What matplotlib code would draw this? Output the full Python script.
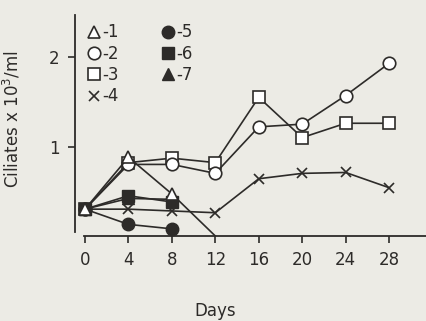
import matplotlib
matplotlib.use("Agg")
import matplotlib.pyplot as plt
from matplotlib.lines import Line2D

# days sampled
days = [0, 4, 8, 12, 16, 20, 24, 28]
days_short = [0, 4, 8]
days_s1 = [0, 4, 8, 12]

# ciliates x 10^3 / ml
s1 = [0.30, 0.88, 0.47, 0.0]
s2 = [0.30, 0.80, 0.80, 0.70, 1.22, 1.25, 1.57, 1.93]
s3 = [0.30, 0.82, 0.87, 0.82, 1.55, 1.10, 1.26, 1.26]
s4 = [0.30, 0.30, 0.28, 0.26, 0.64, 0.70, 0.71, 0.54]
s5 = [0.30, 0.13, 0.08]
s6 = [0.30, 0.45, 0.38]
s7 = [0.30, 0.42, 0.41]

x_ticks = [0, 4, 8, 12, 16, 20, 24, 28]
y_ticks = [1, 2]
labels = ["-1", "-2", "-3", "-4", "-5", "-6", "-7"]

ink = "#2d2b29"
paper = "#ecebe5"

fig = plt.figure(figsize=(4.26, 3.21), dpi=100, facecolor=paper)
ax = fig.add_axes([75 / 426, 85 / 321, 351 / 426, 221 / 321])
ax.set_facecolor(paper)

lw = 1.2
ms = 9
mew = 1.2

ax.plot(days, s3, color=ink, lw=lw, marker="s", ms=ms, mfc="white",
        mec=ink, mew=mew, zorder=3)
ax.plot(days, s2, color=ink, lw=lw, marker="o", ms=ms, mfc="white",
        mec=ink, mew=mew, zorder=3)
ax.plot(days, s4, color=ink, lw=lw, marker="x", ms=7, mec=ink, mew=mew,
        zorder=3)
ax.plot(days_short, s6, color=ink, lw=lw, marker="s", ms=ms - 1, mfc=ink,
        mec=ink, zorder=3)
ax.plot(days_short, s7, color=ink, lw=lw, marker="^", ms=ms, mfc=ink,
        mec=ink, zorder=3)
ax.plot(days_short, s5, color=ink, lw=lw, marker="o", ms=ms, mfc=ink,
        mec=ink, zorder=3)
ax.plot(days_s1, s1, color=ink, lw=lw, marker="^", ms=ms, mfc="white",
        mec=ink, mew=mew, markevery=[0, 1, 2], zorder=4)

ax.set_xlim(-0.92, 31.4)
ax.set_ylim(0, 2.47)

for side in ["top", "right"]:
    ax.spines[side].set_visible(False)
ax.spines["left"].set_bounds(0.05, 2.47)
ax.spines["bottom"].set_bounds(-0.1, 31.4)
ax.spines["left"].set_color(ink)
ax.spines["bottom"].set_color(ink)
ax.spines["left"].set_linewidth(1.3)
ax.spines["bottom"].set_linewidth(1.3)

ax.set_xticks(x_ticks)
ax.set_xticklabels([str(t) for t in x_ticks])
ax.set_yticks(y_ticks)
ax.set_yticklabels([str(t) for t in y_ticks])
ax.tick_params(colors=ink, labelsize=12, length=5, width=1.2, pad=6)

ax.set_xlabel("Days", fontsize=12, color=ink)
ax.xaxis.set_label_coords(0.40, -0.30)
ax.set_ylabel("Ciliates x 10$^3$/ml", fontsize=12, color=ink)
ax.yaxis.set_label_coords(-0.15, 0.53)

handles = [
    Line2D([], [], ls="none", marker="^", ms=ms, mfc="white", mec=ink, mew=mew),
    Line2D([], [], ls="none", marker="o", ms=ms, mfc="white", mec=ink, mew=mew),
    Line2D([], [], ls="none", marker="s", ms=ms, mfc="white", mec=ink, mew=mew),
    Line2D([], [], ls="none", marker="x", ms=7, mec=ink, mew=mew),
    Line2D([], [], ls="none", marker="o", ms=ms, mfc=ink, mec=ink),
    Line2D([], [], ls="none", marker="s", ms=ms - 1, mfc=ink, mec=ink),
    Line2D([], [], ls="none", marker="^", ms=ms, mfc=ink, mec=ink),
]
leg = ax.legend(handles, labels, ncol=2, loc="upper left",
                bbox_to_anchor=(0.01, 1.0), frameon=False, fontsize=12,
                handlelength=0.8, handletextpad=0.1, labelspacing=0.2,
                columnspacing=2.6, borderaxespad=0.1)
for t in leg.get_texts():
    t.set_color(ink)

fig.savefig("out.png", dpi=100, facecolor=paper)
